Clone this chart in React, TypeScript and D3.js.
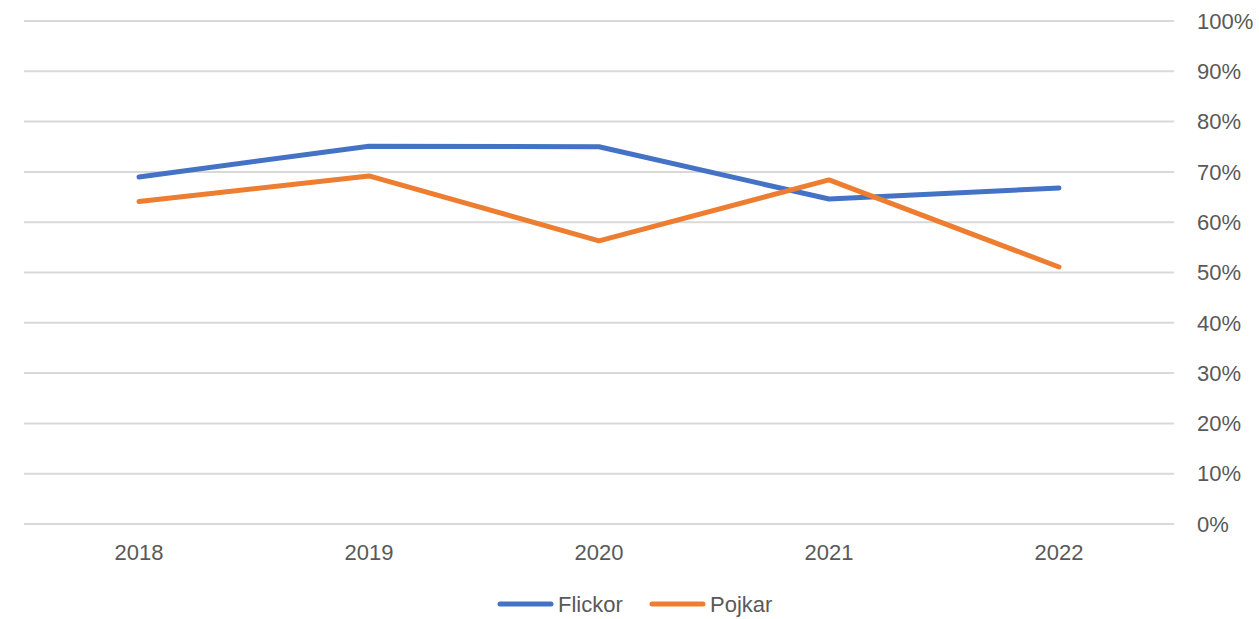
import { useEffect, useRef } from 'react';
import * as d3 from 'd3';

const years = ['2018', '2019', '2020', '2021', '2022'];
const flickor = [0.69, 0.751, 0.75, 0.646, 0.668];
const pojkar = [0.641, 0.692, 0.563, 0.684, 0.511];
const yTicks = [0, 0.1, 0.2, 0.3, 0.4, 0.5, 0.6, 0.7, 0.8, 0.9, 1];

const series = [
	{ name: 'Flickor', values: flickor, color: '#4472C4' },
	{ name: 'Pojkar', values: pojkar, color: '#ED7D31' },
];

const W = 1259;
const H = 619;
const FONT = '"Liberation Sans", Arial, sans-serif';

const App = () => {
	const ref = useRef<SVGSVGElement>(null);

	useEffect(() => {
		if (!ref.current) return;
		const svg = d3.select(ref.current);
		svg.selectAll('*').remove();

		const left = 24;
		const right = 1174;
		const top = 21;
		const bottom = 524;

		const x = d3.scaleBand<string>().domain(years).range([left, right]);
		const y = d3.scaleLinear().domain([0, 1]).range([bottom, top]);

		svg.append('g')
			.selectAll('line')
			.data(yTicks)
			.join('line')
			.attr('x1', left)
			.attr('x2', right)
			.attr('y1', (d) => y(d))
			.attr('y2', (d) => y(d))
			.attr('stroke', '#D9D9D9')
			.attr('stroke-width', 2);

		svg.append('g')
			.selectAll('text')
			.data(yTicks)
			.join('text')
			.attr('x', 1197)
			.attr('y', (d) => y(d))
			.attr('dy', '0.35em')
			.text((d) => d3.format('.0%')(d))
			.style('font-family', FONT)
			.style('font-size', '22px')
			.style('fill', '#595959');

		svg.append('g')
			.selectAll('text')
			.data(years)
			.join('text')
			.attr('x', (d) => (x(d) ?? 0) + x.bandwidth() / 2)
			.attr('y', 552)
			.attr('dy', '0.35em')
			.attr('text-anchor', 'middle')
			.text((d) => d)
			.style('font-family', FONT)
			.style('font-size', '22px')
			.style('fill', '#595959');

		const line = d3
			.line<number>()
			.x((_, i) => (x(years[i]) ?? 0) + x.bandwidth() / 2)
			.y((d) => y(d));

		series.forEach((s) => {
			svg.append('path')
				.datum(s.values)
				.attr('d', line)
				.attr('fill', 'none')
				.attr('stroke', s.color)
				.attr('stroke-width', 5)
				.attr('stroke-linecap', 'round')
				.attr('stroke-linejoin', 'round');
		});

		const legendX = [498, 650];
		series.forEach((s, i) => {
			const g = svg.append('g').attr('transform', `translate(${legendX[i]}, 604)`);
			g.append('line')
				.attr('x1', 2)
				.attr('x2', 53)
				.attr('stroke', s.color)
				.attr('stroke-width', 5)
				.attr('stroke-linecap', 'round');
			g.append('text')
				.attr('x', 60)
				.attr('dy', '0.35em')
				.text(s.name)
				.style('font-family', FONT)
				.style('font-size', '22px')
				.style('fill', '#595959');
		});
	}, []);

	return <svg ref={ref} width={W} height={H} style={{ display: 'block', position: 'absolute', left: 0, top: 0 }}></svg>;
};

export default App;
